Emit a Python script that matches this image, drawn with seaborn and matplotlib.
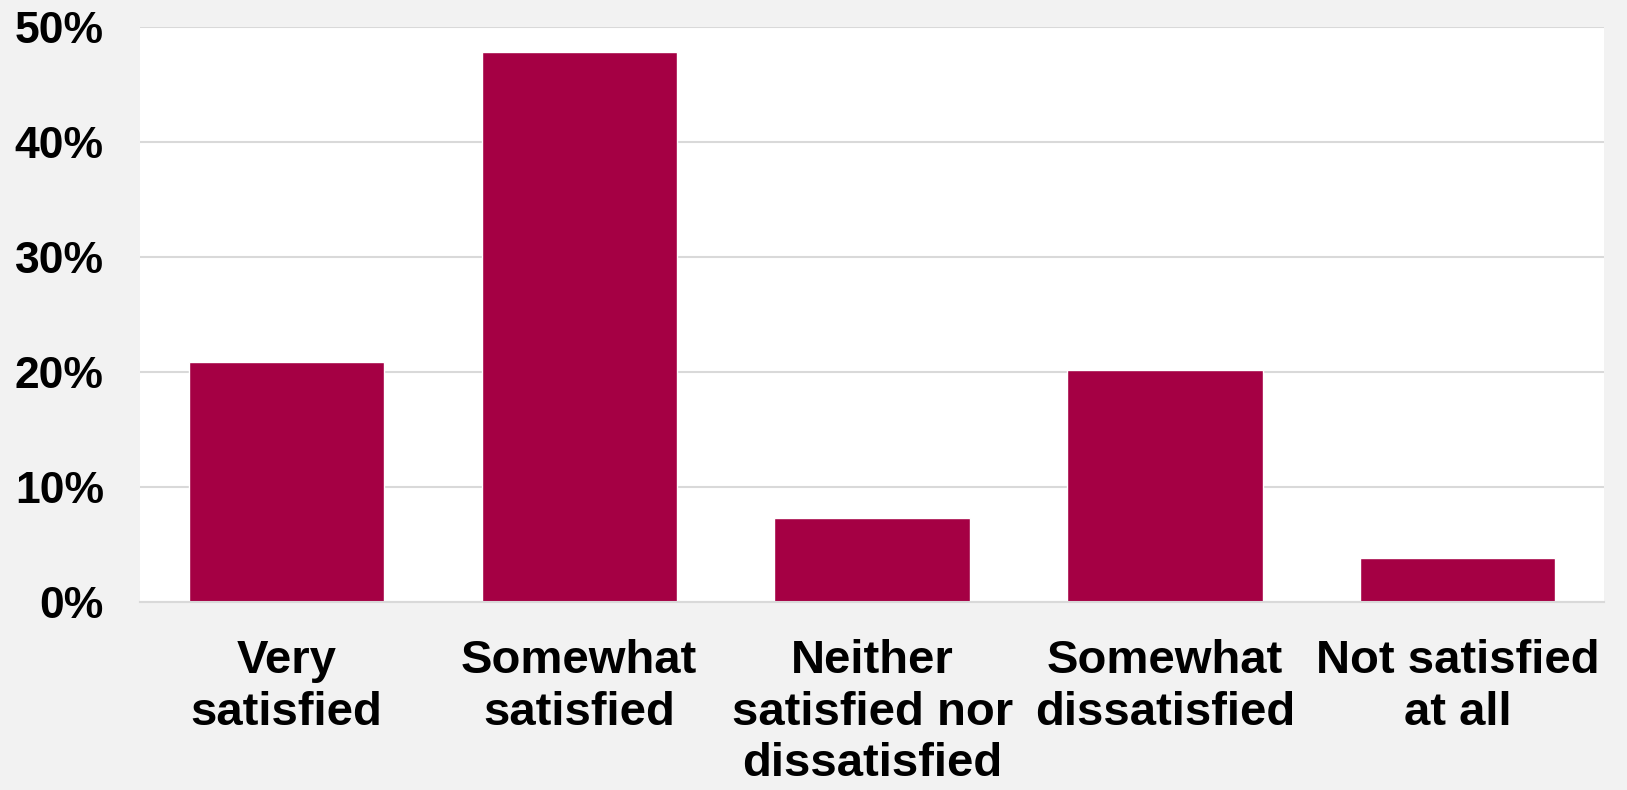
import seaborn as sns
import pandas as pd
import matplotlib.pyplot as plt
from matplotlib.ticker import PercentFormatter

categories = ['Very\nsatisfied', 'Somewhat\nsatisfied', 'Neither\nsatisfied nor\ndissatisfied',
              'Somewhat\ndissatisfied', 'Not satisfied\nat all']
shares = [0.209, 0.478, 0.073, 0.202, 0.038]

df = pd.DataFrame({'answer': categories, 'share': shares})

sns.set_style('whitegrid')
plt.rcParams['font.family'] = ['Liberation Sans', 'DejaVu Sans']

fig, ax = plt.subplots(figsize=(16.27, 7.9), dpi=100)
fig.patch.set_facecolor('#f2f2f2')
ax.set_facecolor('white')
fig.subplots_adjust(left=0.086, right=0.986, top=0.966, bottom=0.238)

sns.barplot(data=df, x='answer', y='share', color='#a50044', saturation=1,
            width=0.667, ax=ax)

ax.set_ylim(0, 0.5)
ax.set_yticks([0, 0.1, 0.2, 0.3, 0.4, 0.5])
ax.yaxis.set_major_formatter(PercentFormatter(1.0, decimals=0))
ax.grid(axis='y', color='#d9d9d9', linewidth=1.5)
ax.grid(axis='x', visible=False)
ax.set_axisbelow(True)
for side in ['left', 'right', 'top']:
    ax.spines[side].set_visible(False)
ax.spines['bottom'].set_color('#d9d9d9')
ax.spines['bottom'].set_linewidth(1.5)
ax.set_xlabel('')
ax.set_ylabel('')
ax.tick_params(axis='both', length=0, labelcolor='black')
ax.tick_params(axis='y', pad=26, labelsize=32)
ax.tick_params(axis='x', pad=27, labelsize=34)
for lbl in ax.get_xticklabels() + ax.get_yticklabels():
    lbl.set_fontweight('bold')
for lbl in ax.get_xticklabels():
    lbl.set_linespacing(1.22)

fig.savefig('out.png', dpi=100, facecolor=fig.get_facecolor())
